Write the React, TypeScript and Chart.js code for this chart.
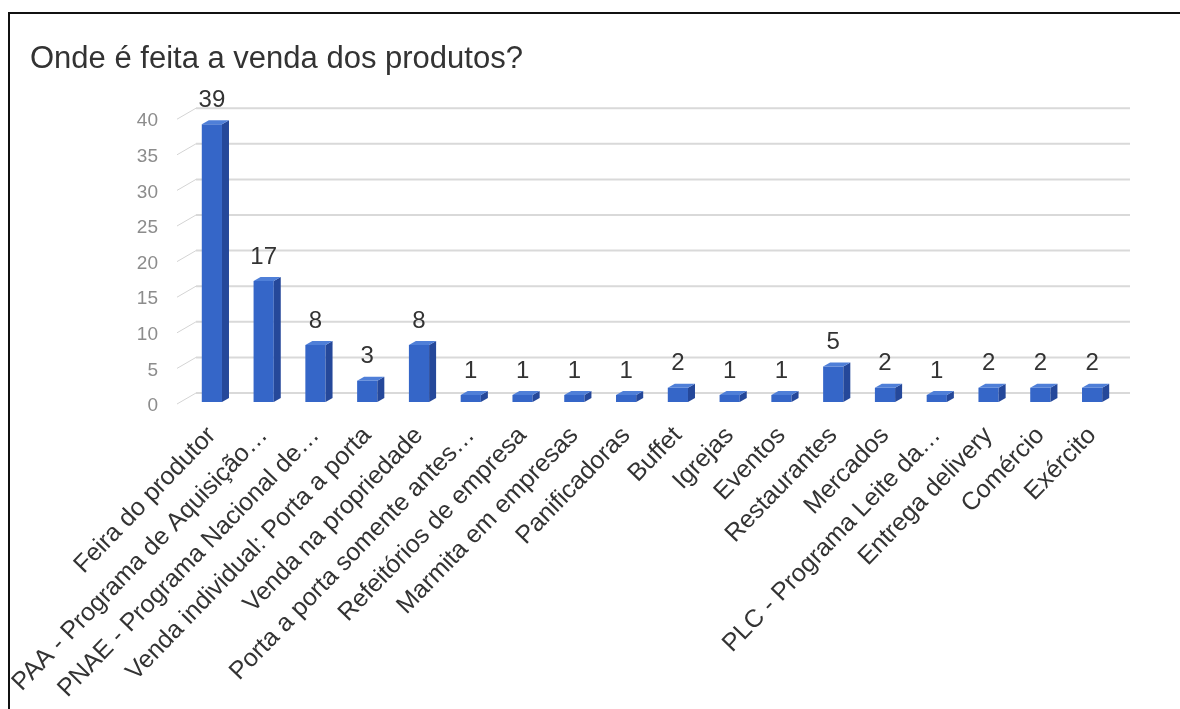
import React, { useEffect, useRef } from "react";
import { Chart, registerables } from "chart.js";

Chart.register(...registerables);

const TITLE = "Onde é feita a venda dos produtos?";

const categories: string[] = [
  "Feira do produtor",
  "PAA - Programa de Aquisição…",
  "PNAE - Programa Nacional de…",
  "Venda individual: Porta a porta",
  "Venda na propriedade",
  "Porta a porta somente antes…",
  "Refeitórios de empresa",
  "Marmita em empresas",
  "Panificadoras",
  "Buffet",
  "Igrejas",
  "Eventos",
  "Restaurantes",
  "Mercados",
  "PLC - Programa Leite da…",
  "Entrega delivery",
  "Comércio",
  "Exército",
];

const values: number[] = [39, 17, 8, 3, 8, 1, 1, 1, 1, 2, 1, 1, 5, 2, 1, 2, 2, 2];

const yTicks: number[] = [0, 5, 10, 15, 20, 25, 30, 35, 40];

const FONT = "'Liberation Sans', Arial, sans-serif";

// 3D look parameters (depth offsets)
const WALL_DX = 10;
const WALL_DY = -9;
const BAR_DX = 7;
const BAR_DY = -4;

const threeD = {
  id: "threeD",
  beforeDatasetsDraw(chart: any) {
    const { ctx, chartArea: ca, scales } = chart;
    const y = scales.y;
    ctx.save();
    for (const v of yTicks) {
      const yy = y.getPixelForValue(v);
      ctx.beginPath();
      ctx.strokeStyle = "#d9d9d9";
      ctx.lineWidth = 2;
      ctx.moveTo(ca.left + WALL_DX, yy + WALL_DY);
      ctx.lineTo(ca.right + 12, yy + WALL_DY);
      ctx.stroke();
      ctx.beginPath();
      ctx.strokeStyle = "#d4d4d4";
      ctx.lineWidth = 1;
      ctx.moveTo(ca.left - 9, yy + 2);
      ctx.lineTo(ca.left + WALL_DX, yy + WALL_DY);
      ctx.stroke();
    }
    ctx.restore();
  },
  afterDatasetsDraw(chart: any) {
    const { ctx } = chart;
    const meta = chart.getDatasetMeta(0);
    ctx.save();
    meta.data.forEach((bar: any, i: number) => {
      const { x, y, base, width } = bar.getProps(["x", "y", "base", "width"], true);
      const l = x - width / 2;
      const r = x + width / 2;
      // side face
      ctx.beginPath();
      ctx.moveTo(r, y);
      ctx.lineTo(r + BAR_DX, y + BAR_DY);
      ctx.lineTo(r + BAR_DX, base + BAR_DY);
      ctx.lineTo(r, base);
      ctx.closePath();
      ctx.fillStyle = "#25489a";
      ctx.fill();
      // top face
      ctx.beginPath();
      ctx.moveTo(l, y);
      ctx.lineTo(l + BAR_DX, y + BAR_DY);
      ctx.lineTo(r + BAR_DX, y + BAR_DY);
      ctx.lineTo(r, y);
      ctx.closePath();
      ctx.fillStyle = "#4f7fd8";
      ctx.fill();
      // value label
      ctx.fillStyle = "#333333";
      ctx.font = `24px ${FONT}`;
      ctx.textAlign = "center";
      ctx.textBaseline = "middle";
      ctx.fillText(String(values[i]), x, y - 24);
    });
    ctx.restore();
  },
};

export default function App() {
  const canvasRef = useRef<HTMLCanvasElement | null>(null);

  useEffect(() => {
    const canvas = canvasRef.current;
    if (!canvas) return;
    const chart = new Chart(canvas, {
      type: "bar",
      data: {
        labels: categories,
        datasets: [
          {
            data: values,
            backgroundColor: "#3566c8",
            borderWidth: 0,
            barPercentage: 0.39,
            categoryPercentage: 1,
          },
        ],
      },
      options: {
        animation: false,
        responsive: true,
        maintainAspectRatio: false,
        layout: { padding: { left: 20, right: 62, top: 0, bottom: 0 } },
        plugins: {
          legend: { display: false },
          tooltip: { enabled: false },
          title: {
            display: true,
            text: TITLE,
            align: "start",
            color: "#333333",
            font: { family: FONT, size: 31, weight: "normal" },
            padding: { top: 27, bottom: 39 },
          },
        },
        scales: {
          x: {
            grid: { display: false, drawTicks: false },
            border: { display: false },
            ticks: {
              autoSkip: false,
              minRotation: 46,
              maxRotation: 46,
              padding: 19,
              color: "#333333",
              font: { family: FONT, size: 25 },
            },
            afterFit: (scale: any) => {
              scale.height = 307;
            },
          },
          y: {
            min: 0,
            max: 40,
            grid: { display: false, drawTicks: false },
            border: { display: false },
            ticks: {
              stepSize: 5,
              padding: 28,
              labelOffset: 4,
              color: "#8c8c8c",
              font: { family: FONT, size: 19 },
            },
            afterFit: (scale: any) => {
              scale.width = 156;
            },
          },
        },
      },
      plugins: [threeD],
    });
    return () => chart.destroy();
  }, []);

  return (
    <div
      style={{
        position: "absolute",
        left: 8,
        top: 12,
        width: 1172,
        height: 697,
        borderTop: "2px solid #111",
        borderLeft: "2px solid #111",
        boxSizing: "border-box",
        background: "#fff",
        overflow: "hidden",
      }}
    >
      <div style={{ position: "relative", width: 1170, height: 695 }}>
        <canvas ref={canvasRef} />
      </div>
    </div>
  );
}
